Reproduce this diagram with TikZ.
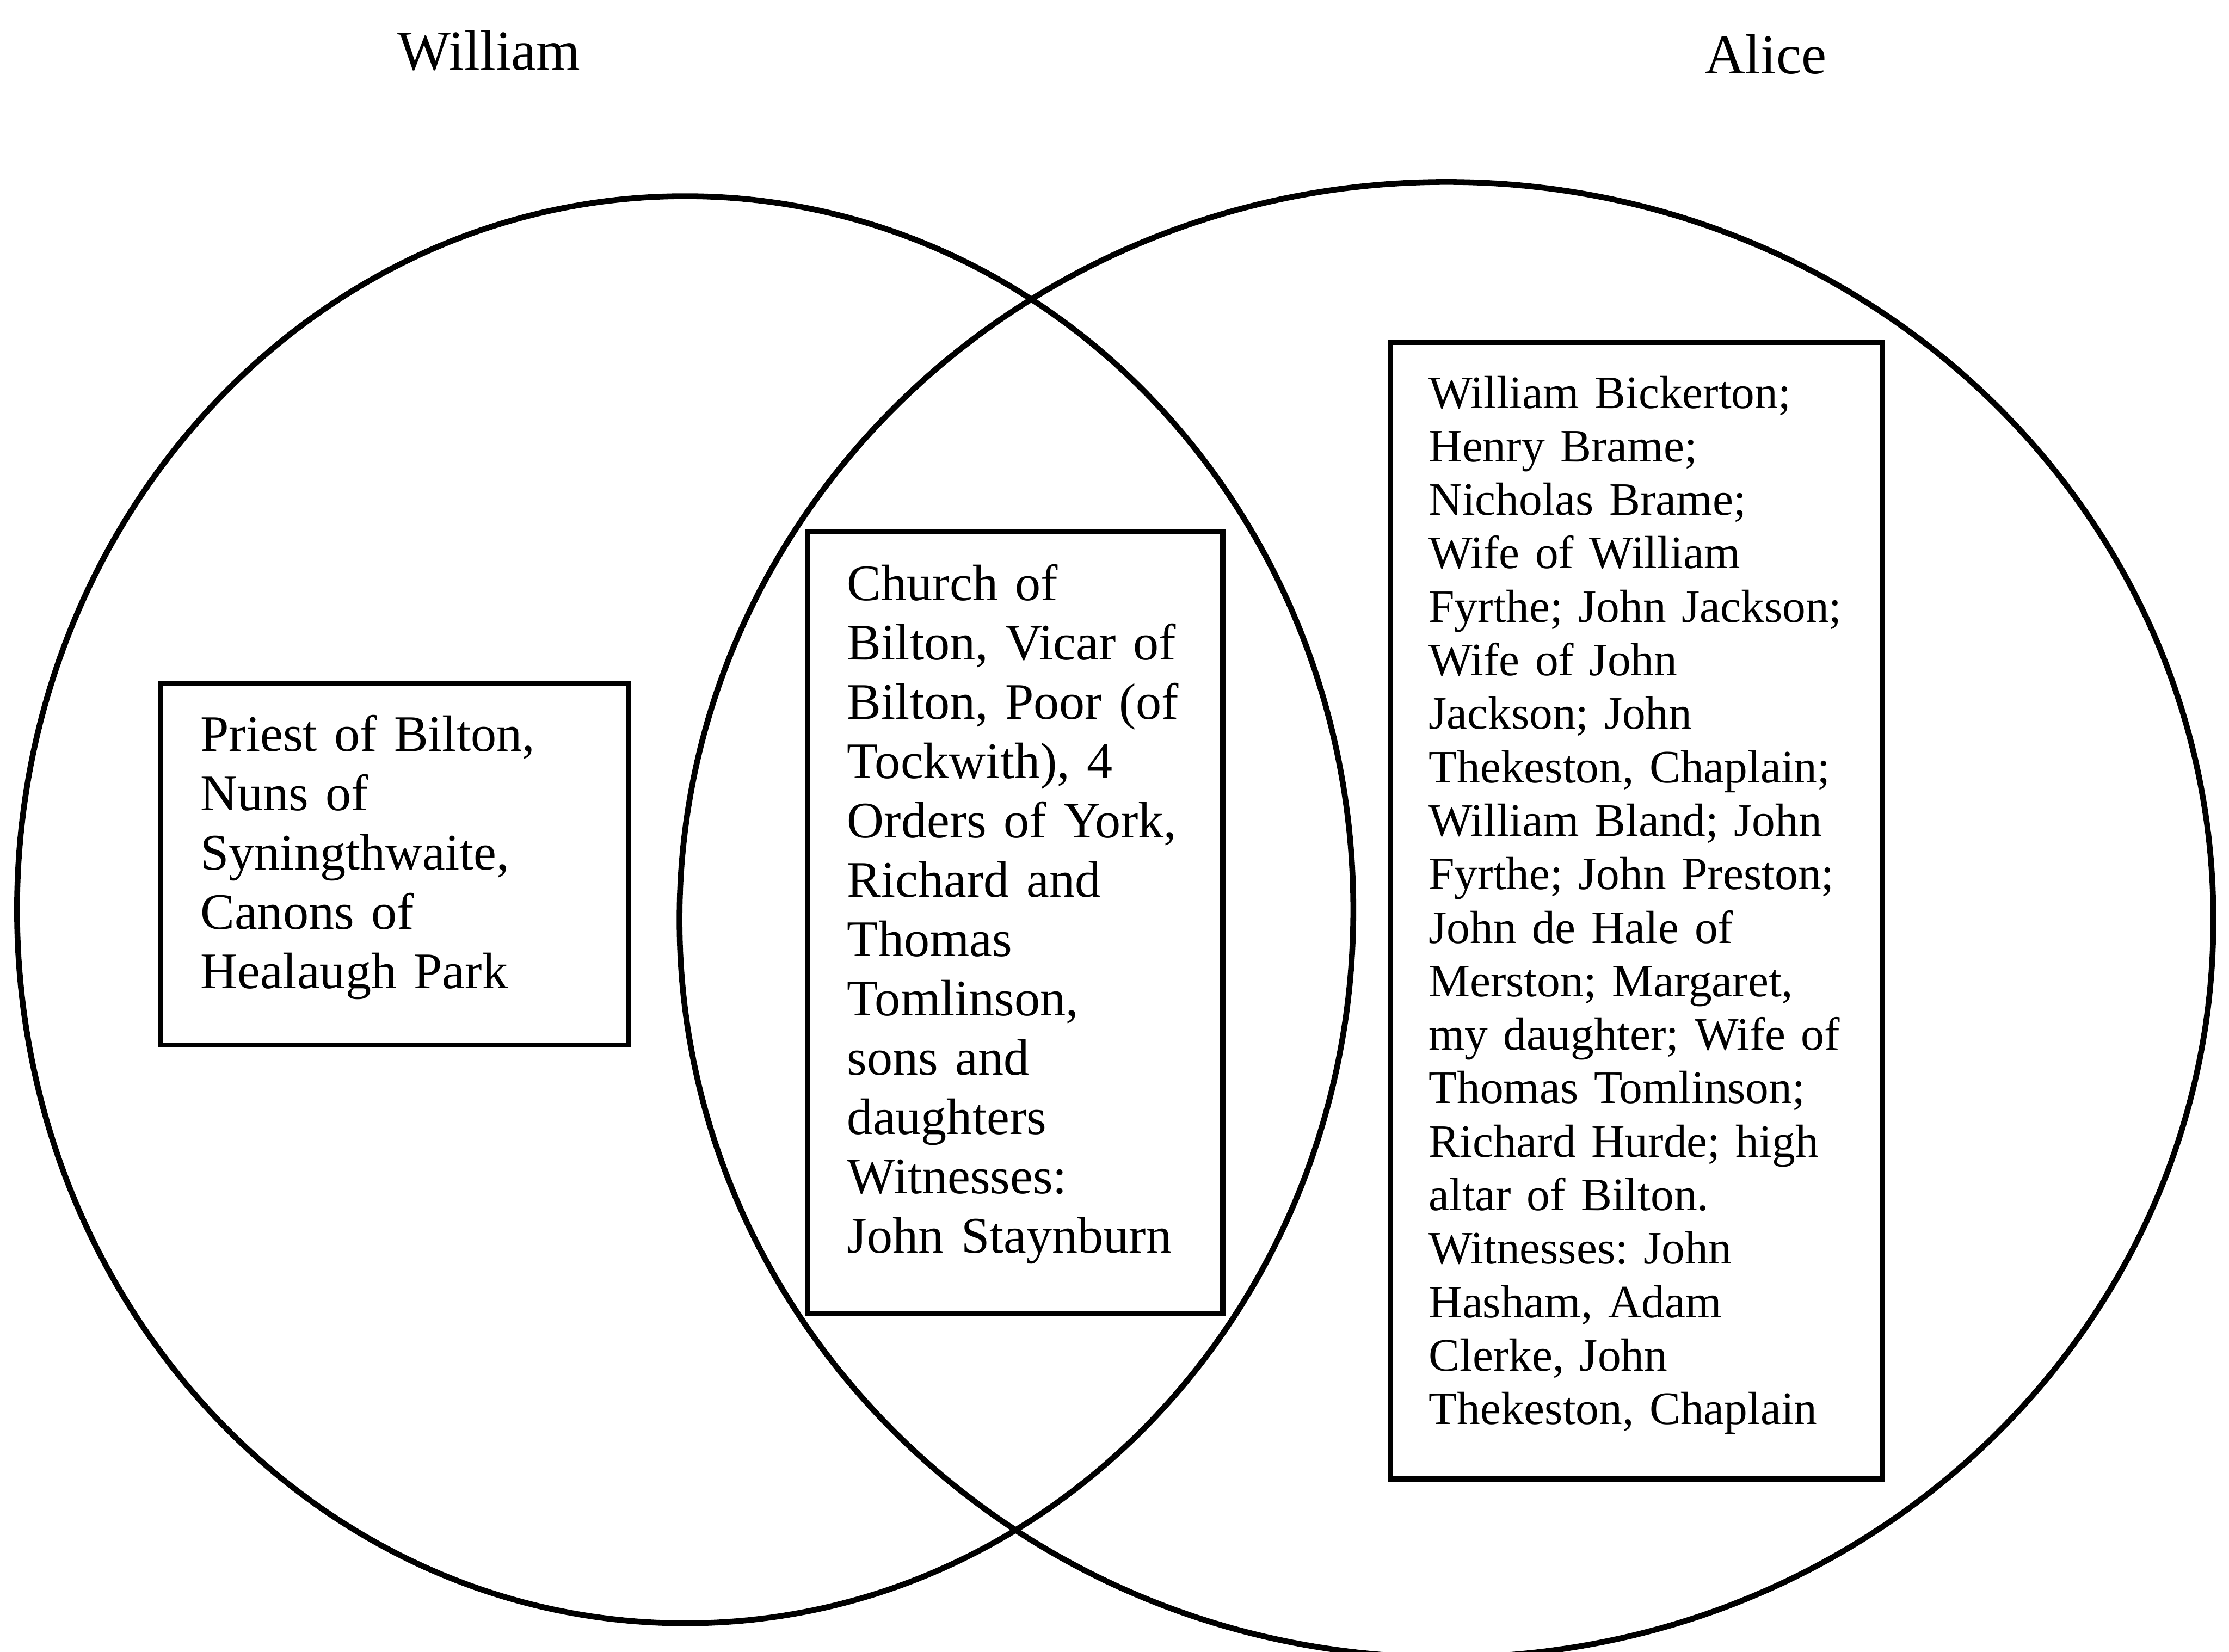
\documentclass[tikz,border=0pt]{standalone}
\usepackage{fontspec}
\setmainfont{Liberation Serif}
\usepackage{tikz}
\usetikzlibrary{positioning}
\hyphenpenalty=10000
\frenchspacing

\tikzset{
  set/.style={line width=1.15pt},
  listbox/.style={draw, line width=1pt, anchor=north west, outer sep=0pt,
    align=left, inner ysep=0pt},
  name label/.style={anchor=base, font=\fontsize{11.3pt}{13pt}\selectfont},
}
\newcommand{\boxfont}{\fontsize{10.25pt}{11.87pt}\selectfont}
\newcommand{\widefont}{\fontsize{9.3pt}{10.7pt}\selectfont}

\begin{document}
\begin{tikzpicture}[x=0.01cm, y=-0.01cm]
	\useasboundingbox (0,0) rectangle (1568,1162);
	% the two sets
	\draw[set] (482,640) ellipse [x radius=470, y radius=502];
	\draw[set] (1017.5,647) ellipse [x radius=539.5, y radius=519];
	\node[name label] (william) at (344,49) {William};
	\node[name label] (alice) at (1242,52) {Alice};

	% William only
	\node[listbox, font=\boxfont, text width=2.73cm, inner xsep=0.28cm, minimum height=2.54cm] (wonly) at (113,481)
		{Priest of Bilton,\\ Nuns of\\ Syningthwaite,\\ Canons of\\ Healaugh Park\vspace{0.1cm}};
	% both
	\node[listbox, font=\boxfont, text width=2.36cm, inner xsep=0.28cm, minimum height=5.50cm] (both) at (568,374)
		{Church of\\ Bilton, Vicar of\\ Bilton, Poor (of\\ Tockwith), 4\\ Orders of York,\\ Richard and\\ Thomas\\ Tomlinson,\\ sons and\\ daughters\\ Witnesses:\\ John Staynburn\vspace{0.12cm}};
	% Alice only
	\node[listbox, font=\widefont, text width=2.92cm, inner xsep=0.27cm, minimum height=7.99cm] (aonly) at (978,241)
		{William Bickerton;\\ Henry Brame;\\ Nicholas Brame;\\ Wife of William\\ Fyrthe; John Jackson;\\ Wife of John\\ Jackson; John\\ Thekeston, Chaplain;\\ William Bland; John\\ Fyrthe; John Preston;\\ John de Hale of\\ Merston; Margaret,\\ my daughter; Wife of\\ Thomas Tomlinson;\\ Richard Hurde; high\\ altar of Bilton.\\ Witnesses: John\\ Hasham, Adam\\ Clerke, John\\ Thekeston, Chaplain\vspace{0.08cm}};

\end{tikzpicture}
\end{document}
